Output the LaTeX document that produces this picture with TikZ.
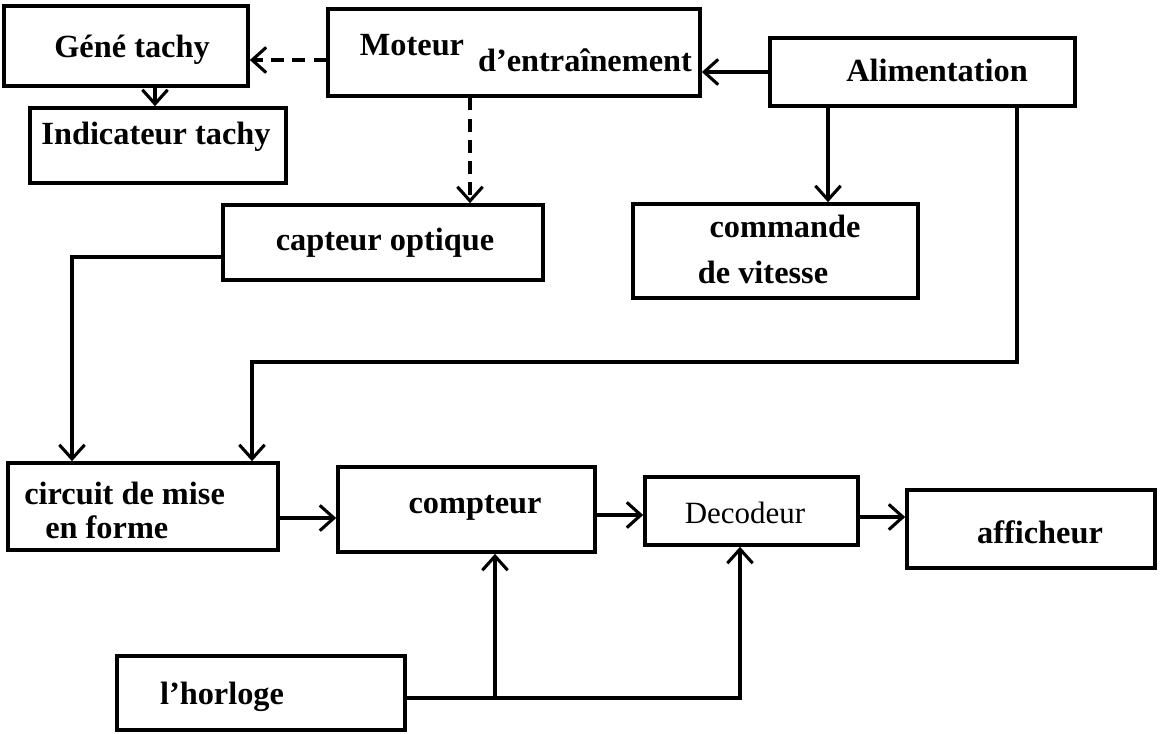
\documentclass[tikz,border=0pt]{standalone}
\usepackage{fontspec}
\setmainfont{Liberation Serif}
\usetikzlibrary{arrows.meta}
\begin{document}
\begin{tikzpicture}[x=0.025cm,y=-0.025cm,
  box/.style={draw,line width=2.6pt,rectangle,inner sep=0pt},
  lbl/.style={inner sep=0pt,font=\fontsize{23}{25}\selectfont\bfseries},
  lblr/.style={inner sep=0pt,font=\fontsize{22}{24}\selectfont},
  conn/.style={line width=2.6pt,-{Straight Barb[length=10pt,width=18pt,line width=2.2pt]}},
  dconn/.style={conn,dash pattern=on 9pt off 6pt}]
\useasboundingbox (0,0) rectangle (1161,733);
% boxes
\node[box,minimum width=244*0.025cm,minimum height=80*0.025cm] (gene) at (126,46) {};
\node[box,minimum width=256*0.025cm,minimum height=75*0.025cm] (ind) at (158,145.5) {};
\node[box,minimum width=372*0.025cm,minimum height=87*0.025cm] (mot) at (514,52.5) {};
\node[box,minimum width=305*0.025cm,minimum height=68*0.025cm] (alim) at (922.5,72) {};
\node[box,minimum width=320*0.025cm,minimum height=75*0.025cm] (capt) at (383,242.5) {};
\node[box,minimum width=285*0.025cm,minimum height=94*0.025cm] (cmd) at (775.5,251) {};
\node[box,minimum width=270*0.025cm,minimum height=87*0.025cm] (circ) at (143,506.5) {};
\node[box,minimum width=257*0.025cm,minimum height=85*0.025cm] (cpt) at (466.5,509.5) {};
\node[box,minimum width=213*0.025cm,minimum height=68*0.025cm] (dec) at (751.5,511) {};
\node[box,minimum width=248*0.025cm,minimum height=78*0.025cm] (aff) at (1031,529) {};
\node[box,minimum width=288*0.025cm,minimum height=74*0.025cm] (horl) at (261,693) {};
% texts
\node[lbl] (tgene) at (132,50) {Géné tachy};
\node[lbl] (tind) at (156,137) {Indicateur tachy};
\node[lbl] (tmot1) at (412,45) {Moteur};
\node[lbl] (tmot2) at (585,60) {d’entraînement};
\node[lbl] (talim) at (937,70) {Alimentation};
\node[lbl] (tcapt) at (385,243) {capteur optique};
\node[lbl] (tcmd1) at (785,226) {commande};
\node[lbl] (tcmd2) at (763,272) {de vitesse};
\node[lbl,anchor=west] (tcirc1) at (24,493) {circuit de mise};
\node[lbl,anchor=west] (tcirc2) at (45,527) {en forme};
\node[lbl] (tcpt) at (475,508) {compteur};
\node[lblr] (tdec) at (745,513) {Decodeur};
\node[lbl] (taff) at (1040,532) {afficheur};
\node[lbl] (thorl) at (222,697) {l’horloge};
% connectors
\draw[dconn] (mot.west |- 0,60) -- (gene.east |- 0,60);
\draw[dconn] (mot.south -| 470,0) -- (capt.north -| 470,0);
\draw[conn] (gene.south -| 155,0) -- (ind.north -| 155,0);
\draw[conn] (alim.west) -- (mot.east |- alim.west);
\draw[conn] (alim.south -| 828,0) -- (cmd.north -| 828,0);
\coordinate (c1) at (1017,362);
\coordinate (c2) at (252,362);
\draw[conn] (alim.south -| c1) -- (c1) -- (c2) -- (circ.north -| c2);
\coordinate (c3) at (72,257);
\draw[conn] (capt.west |- c3) -- (c3) -- (circ.north -| c3);
\draw[conn] (circ.east |- 0,518) -- (cpt.west |- 0,518);
\draw[conn] (cpt.east |- 0,515) -- (dec.west |- 0,515);
\draw[conn] (dec.east |- 0,517) -- (aff.west |- 0,517);
\coordinate (j1) at (495,698);
\coordinate (j2) at (740,698);
\draw[conn] (horl.east |- j1) -- (j2) -- (dec.south -| j2);
\draw[conn] (j1) -- (cpt.south -| j1);
\end{tikzpicture}
\end{document}
